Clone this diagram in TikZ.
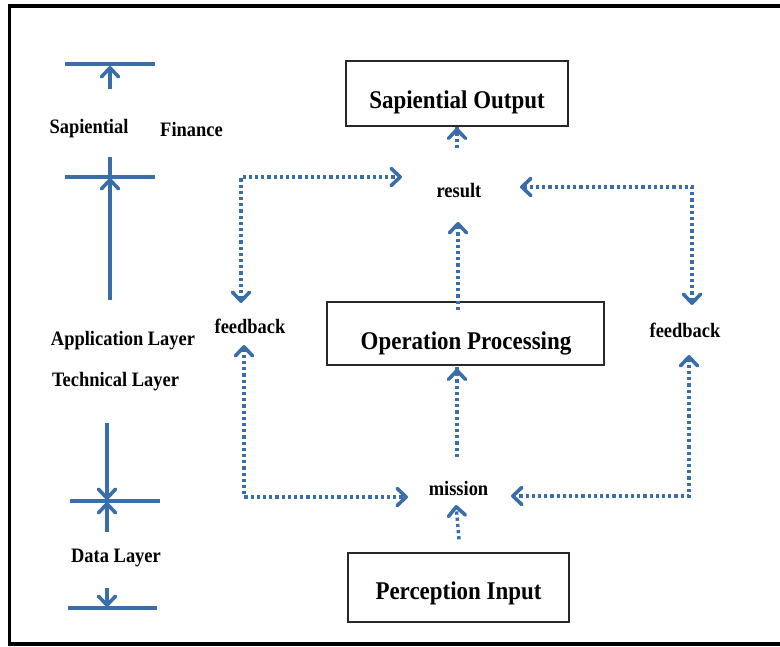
\documentclass[tikz,border=0pt]{standalone}
\usepackage{fontspec}
\setmainfont{Liberation Serif}
\newfontfamily\narrowserif[FakeStretch=0.9]{Liberation Serif}
\usetikzlibrary{arrows.meta}
\definecolor{steel}{RGB}{58,110,168}
\definecolor{boxline}{RGB}{40,40,40}
\tikzset{
  x=1pt, y=-1pt,
  chev/.tip={Straight Barb[length=9pt,width=17pt,line width=3.6pt,line cap=round,line join=round]},
  flow/.style={steel, line width=3.4pt, dash pattern=on 3.2pt off 3pt},
  scale bar/.style={steel, line width=4pt},
  scale arrow/.style={steel, line width=3.2pt, -chev},
  stepbox/.style={draw=boxline, line width=1.3pt, inner sep=0pt},
  bigtext/.style={inner sep=0pt, font=\narrowserif\bfseries\fontsize{25.5}{30}\selectfont},
  smalltext/.style={inner sep=0pt, font=\narrowserif\bfseries\fontsize{20.5}{24}\selectfont},
}
\begin{document}
\begin{tikzpicture}
\useasboundingbox (0,0) rectangle (780,646);
% outer frame (its right side runs off the page)
\draw[black, line width=3.5pt] (800,6) -- (9.5,6) -- (9.5,644) -- (800,644);

% ---------- layer scale on the left ----------
\coordinate (b1l) at (65,64);   \coordinate (b1r) at (155,64);
\coordinate (b2l) at (65,177);  \coordinate (b2r) at (155,177);
\coordinate (b3l) at (70,501);  \coordinate (b3r) at (160,501);
\coordinate (b4l) at (68,608);  \coordinate (b4r) at (157,608);
\draw[scale bar] (b1l) -- (b1r);
\draw[scale bar] (b2l) -- (b2r);
\draw[scale bar] (b3l) -- (b3r);
\draw[scale bar] (b4l) -- (b4r);

\coordinate (a1s) at (110,89);  \coordinate (a1e) at (110,66);
\coordinate (a2s) at (110,300); \coordinate (a2e) at (110,178);
\coordinate (a2top) at (110,157);
\coordinate (a3s) at (107,423); \coordinate (a3e) at (107,500);
\coordinate (a4s) at (107,532); \coordinate (a4e) at (107,502);
\coordinate (a5s) at (107,588); \coordinate (a5e) at (107,607);
\draw[scale arrow] (a1s) -- (a1e);
\draw[scale arrow] (a2s) -- (a2e);
\draw[steel, line width=3.2pt] (a2e) -- (a2top);
\draw[scale arrow] (a3s) -- (a3e);
\draw[scale arrow] (a4s) -- (a4e);
\draw[scale arrow] (a5s) -- (a5e);

\node[smalltext] (sap) at (89,129) {Sapiential};
\node[smalltext] (fin) at (191.5,129) {Finance};
\node[smalltext] (app) at (123,341) {Application Layer};
\node[smalltext] (tech) at (115.5,382) {Technical Layer};
\node[smalltext] (data) at (116,558) {Data Layer};

% ---------- processing flow ----------
\node[stepbox, minimum width=222pt, minimum height=65pt] (outbox) at (457,93.5) {};
\node[bigtext] (out) at (457,102) {Sapiential Output};
\node[stepbox, minimum width=277pt, minimum height=63pt] (opbox) at (465.5,333.5) {};
\node[bigtext] (op) at (466,343) {Operation Processing};
\node[stepbox, minimum width=221pt, minimum height=69pt] (inbox) at (458.5,587.5) {};
\node[bigtext] (in) at (458.5,593) {Perception Input};

\node[smalltext] (result) at (459,191) {result};
\node[smalltext] (mission) at (458.5,488) {mission};
\node[smalltext] (fbl) at (250,326) {feedback};
\node[smalltext] (fbr) at (685,330) {feedback};

% upward flow
\draw[flow, -chev] ([xshift=0.5pt]inbox.north) ++(0,-13) -- (456,505);
\draw[flow, -chev] (457,457) -- (opbox.south -| 457,0) ++(0,3);
\draw[flow, -chev] (458,310) -- (458,222);
\draw[flow, -chev] (457,148) -- (outbox.south -| 457,0) ++(0,1);

% feedback loops
\coordinate (ctl) at (241,177);
\coordinate (cbl) at (244,497);
\coordinate (ctr) at (692,187);
\coordinate (cbr) at (689,496);
\draw[flow, chev-chev] (241,303) -- (ctl) -- (402,177);
\draw[flow, chev-chev] (244,345) -- (cbl) -- (408,497);
\draw[flow, chev-chev] (520,187) -- (ctr) -- (692,305);
\draw[flow, chev-chev] (689,355) -- (cbr) -- (511,496);
\end{tikzpicture}
\end{document}
